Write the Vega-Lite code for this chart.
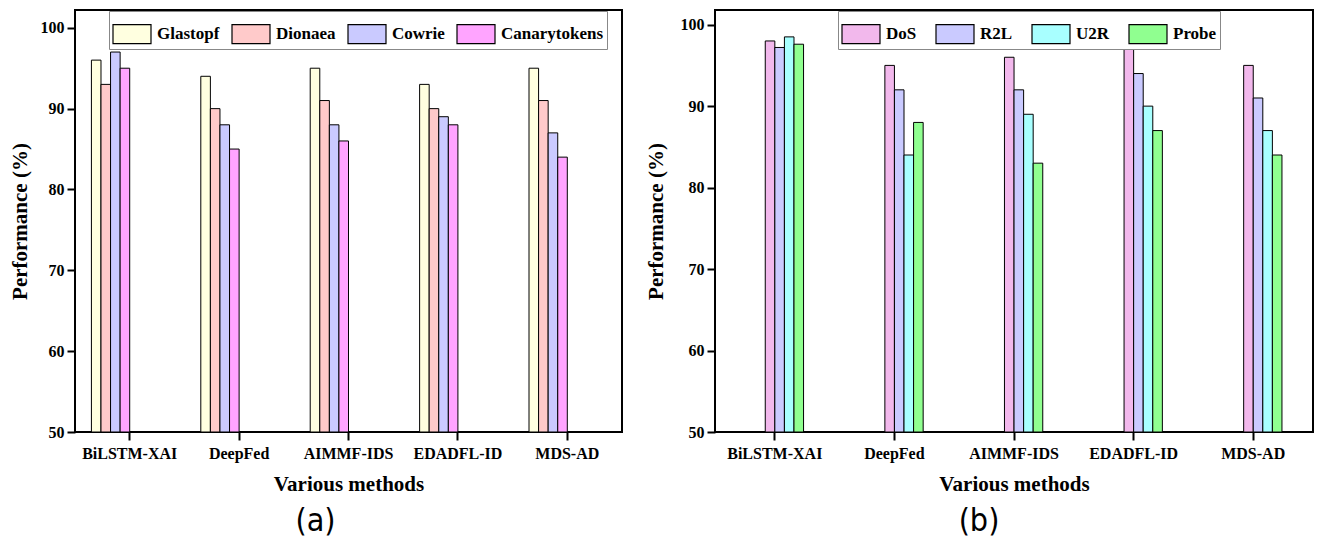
{
  "$schema": "https://vega.github.io/schema/vega-lite/v6.json",
  "padding": {"left": 8, "top": 4, "right": 5, "bottom": 0},
  "background": "white",
  "datasets": {
    "a": [
      {"method": "BiLSTM-XAI", "honeypot": "Glastopf", "value": 96},
      {"method": "BiLSTM-XAI", "honeypot": "Dionaea", "value": 93},
      {"method": "BiLSTM-XAI", "honeypot": "Cowrie", "value": 97},
      {"method": "BiLSTM-XAI", "honeypot": "Canarytokens", "value": 95},
      {"method": "DeepFed", "honeypot": "Glastopf", "value": 94},
      {"method": "DeepFed", "honeypot": "Dionaea", "value": 90},
      {"method": "DeepFed", "honeypot": "Cowrie", "value": 88},
      {"method": "DeepFed", "honeypot": "Canarytokens", "value": 85},
      {"method": "AIMMF-IDS", "honeypot": "Glastopf", "value": 95},
      {"method": "AIMMF-IDS", "honeypot": "Dionaea", "value": 91},
      {"method": "AIMMF-IDS", "honeypot": "Cowrie", "value": 88},
      {"method": "AIMMF-IDS", "honeypot": "Canarytokens", "value": 86},
      {"method": "EDADFL-ID", "honeypot": "Glastopf", "value": 93},
      {"method": "EDADFL-ID", "honeypot": "Dionaea", "value": 90},
      {"method": "EDADFL-ID", "honeypot": "Cowrie", "value": 89},
      {"method": "EDADFL-ID", "honeypot": "Canarytokens", "value": 88},
      {"method": "MDS-AD", "honeypot": "Glastopf", "value": 95},
      {"method": "MDS-AD", "honeypot": "Dionaea", "value": 91},
      {"method": "MDS-AD", "honeypot": "Cowrie", "value": 87},
      {"method": "MDS-AD", "honeypot": "Canarytokens", "value": 84}
    ],
    "b": [
      {"method": "BiLSTM-XAI", "attack": "DoS", "value": 98},
      {"method": "BiLSTM-XAI", "attack": "R2L", "value": 97.2},
      {"method": "BiLSTM-XAI", "attack": "U2R", "value": 98.5},
      {"method": "BiLSTM-XAI", "attack": "Probe", "value": 97.6},
      {"method": "DeepFed", "attack": "DoS", "value": 95},
      {"method": "DeepFed", "attack": "R2L", "value": 92},
      {"method": "DeepFed", "attack": "U2R", "value": 84},
      {"method": "DeepFed", "attack": "Probe", "value": 88},
      {"method": "AIMMF-IDS", "attack": "DoS", "value": 96},
      {"method": "AIMMF-IDS", "attack": "R2L", "value": 92},
      {"method": "AIMMF-IDS", "attack": "U2R", "value": 89},
      {"method": "AIMMF-IDS", "attack": "Probe", "value": 83},
      {"method": "EDADFL-ID", "attack": "DoS", "value": 97},
      {"method": "EDADFL-ID", "attack": "R2L", "value": 94},
      {"method": "EDADFL-ID", "attack": "U2R", "value": 90},
      {"method": "EDADFL-ID", "attack": "Probe", "value": 87},
      {"method": "MDS-AD", "attack": "DoS", "value": 95},
      {"method": "MDS-AD", "attack": "R2L", "value": 91},
      {"method": "MDS-AD", "attack": "U2R", "value": 87},
      {"method": "MDS-AD", "attack": "Probe", "value": 84}
    ]
  },
  "config": {
    "view": {"stroke": "black", "strokeWidth": 2},
    "axis": {
      "grid": false,
      "domain": false,
      "labelFont": "Liberation Serif",
      "labelFontWeight": "bold",
      "labelFontSize": 16,
      "labelColor": "black",
      "titleFont": "Liberation Serif",
      "titleFontWeight": "bold",
      "titleFontSize": 21,
      "titleColor": "black",
      "tickColor": "black",
      "tickWidth": 2,
      "tickSize": 8
    },
    "legend": {
      "labelFont": "Liberation Serif",
      "labelFontWeight": "bold",
      "labelFontSize": 17,
      "labelColor": "black"
    }
  },
  "resolve": {"scale": {"color": "independent"}, "legend": {"color": "independent"}},
  "spacing": 21,
  "hconcat": [
    {
      "title": {"text": " ", "fontSize": 1, "offset": 4},
      "vconcat": [
        {
          "width": 547,
          "height": 422,
          "data": {"name": "a"},
          "title": {"text": "(a)", "orient": "bottom", "frame": "bounds", "anchor": "middle", "font": "Liberation Sans Narrow, DejaVu Sans Condensed, Liberation Sans", "fontSize": 32, "fontWeight": "normal", "color": "black", "offset": 12},
          "mark": {"type": "bar", "stroke": "black", "strokeWidth": 1},
          "encoding": {
            "x": {"field": "method", "type": "nominal", "sort": ["BiLSTM-XAI", "DeepFed", "AIMMF-IDS", "EDADFL-ID", "MDS-AD"], "scale": {"paddingInner": 0.3, "paddingOuter": 0.15}, "title": "Various methods", "axis": {"labelAngle": 0, "labelPadding": 5, "titlePadding": 12}},
            "xOffset": {"field": "honeypot", "type": "nominal", "scale": {"domain": ["Glastopf", "Dionaea", "Cowrie", "Canarytokens"], "range": [0, 76.6]}},
            "y": {"field": "value", "type": "quantitative", "scale": {"domain": [50, 102.2], "nice": false, "zero": false}, "title": "Performance (%)", "axis": {"values": [50, 60, 70, 80, 90, 100], "labelPadding": 3, "titlePadding": 10}},
            "y2": {"datum": 50},
            "color": {"field": "honeypot", "type": "nominal", "scale": {"domain": ["Glastopf", "Dionaea", "Cowrie", "Canarytokens"], "range": ["#FFFFE0", "#FFCACA", "#CACAFF", "#FFA4FF"]}, "legend": {"title": null, "orient": "none", "legendX": 34, "legendY": 1, "direction": "horizontal", "symbolType": "M-1,-0.5H1V0.5H-1Z", "symbolSize": 1444, "symbolStrokeColor": "black", "symbolStrokeWidth": 1.2, "symbolOpacity": 1, "labelOffset": 5, "columnPadding": 9, "padding": 3, "strokeColor": "#888888", "fillColor": "white"}}
          }
        }
      ]
    },
    {
      "title": {"text": " ", "fontSize": 1, "offset": 4},
      "vconcat": [
        {
          "width": 598,
          "height": 422,
          "data": {"name": "b"},
          "title": {"text": "(b)", "orient": "bottom", "frame": "bounds", "anchor": "middle", "font": "Liberation Sans Narrow, DejaVu Sans Condensed, Liberation Sans", "fontSize": 32, "fontWeight": "normal", "color": "black", "offset": 12},
          "mark": {"type": "bar", "stroke": "black", "strokeWidth": 1},
          "encoding": {
            "x": {"field": "method", "type": "nominal", "sort": ["BiLSTM-XAI", "DeepFed", "AIMMF-IDS", "EDADFL-ID", "MDS-AD"], "scale": {"paddingInner": 0.2, "paddingOuter": 0.1}, "title": "Various methods", "axis": {"labelAngle": 0, "labelPadding": 5, "titlePadding": 12}},
            "xOffset": {"field": "attack", "type": "nominal", "scale": {"domain": ["DoS", "R2L", "U2R", "Probe"], "range": [0, 95.7]}},
            "y": {"field": "value", "type": "quantitative", "scale": {"domain": [50, 101.8], "nice": false, "zero": false}, "title": "Performance (%)", "axis": {"values": [50, 60, 70, 80, 90, 100], "labelPadding": 3, "titlePadding": 14}},
            "y2": {"datum": 50},
            "color": {"field": "attack", "type": "nominal", "scale": {"domain": ["DoS", "R2L", "U2R", "Probe"], "range": ["#F2B8EC", "#CACAFF", "#A8FFFF", "#90FF90"]}, "legend": {"title": null, "orient": "none", "legendX": 123, "legendY": 1, "direction": "horizontal", "symbolType": "M-1,-0.5H1V0.5H-1Z", "symbolSize": 1444, "symbolStrokeColor": "black", "symbolStrokeWidth": 1.2, "symbolOpacity": 1, "labelOffset": 5, "columnPadding": 16, "padding": 3, "strokeColor": "#888888", "fillColor": "white"}}
          }
        }
      ]
    }
  ]
}
